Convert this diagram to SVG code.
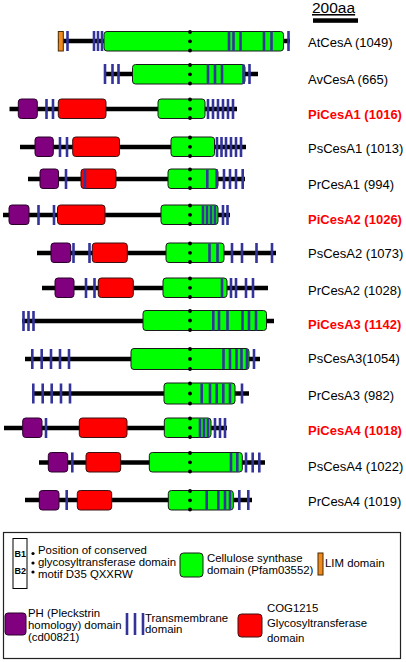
<svg xmlns="http://www.w3.org/2000/svg" width="406" height="662" viewBox="0 0 406 662">
<style>
.ln{stroke:#000;stroke-width:4.5;stroke-linecap:butt}
.tm{stroke:#333399;stroke-width:2.6}
.cs{fill:#00ff00;stroke:#1a1a1a;stroke-width:1}
.gt{fill:#ff0000;stroke:#3a1010;stroke-width:1}
.ph{fill:#800080;stroke:#2a002a;stroke-width:1}
.lim{fill:#f08a1e;stroke:#4a2a00;stroke-width:1}
.dot{fill:#000}
.lb{font-family:"Liberation Sans",Arial,sans-serif;font-size:13px;fill:#000}
.hl{font-weight:bold;fill:#ff0000}
.lg{font-family:"Liberation Sans",Arial,sans-serif;font-size:11.4px;fill:#000}
</style>
<rect width="406" height="662" fill="#fff"/>

<g id="scale">
<text x="312" y="13" font-family="Liberation Sans,Arial,sans-serif" font-size="15.5" text-decoration="underline">200aa</text>
<rect x="313" y="18.3" width="45" height="4.5" fill="#000"/>
</g>

<g id="connectors"></g>

<!-- R1 AtCesA c=41 -->
<g id="AtCesA">
<line class="ln" x1="58" y1="41" x2="290" y2="41"/>
<rect class="lim" x="58.3" y="31.5" width="5" height="19.5"/>
<rect class="cs" x="104" y="31.5" width="179.5" height="19.5" rx="3"/>
<path class="tm" d="M67.5 31v20M94 31v20M98 31v20M102 31v20M229 31.5v19.5M233.5 31.5v19.5M240.5 31.5v19.5M264 31.5v19.5M271.5 31.5v19.5M288.5 31v20"/>
<circle class="dot" cx="190" cy="32" r="1.9"/><circle class="dot" cx="190" cy="41.3" r="1.9"/><circle class="dot" cx="190" cy="50.5" r="1.9"/>
<text class="lb" x="308" y="47">AtCesA (1049)</text>
</g>

<!-- R2 AvCesA c=74 -->
<g id="AvCesA">
<line class="ln" x1="106" y1="74" x2="258" y2="74"/>
<rect class="cs" x="132.5" y="64.5" width="112.5" height="19.5" rx="3"/>
<path class="tm" d="M105 64v20M112.5 64v20M118.5 64v20M208 64.5v19.5M215 64.5v19.5M222 64.5v19.5M243.5 64.5v19.5M249.5 64v20"/>
<circle class="dot" cx="190" cy="65" r="1.9"/><circle class="dot" cx="190" cy="74.3" r="1.9"/><circle class="dot" cx="190" cy="83.5" r="1.9"/>
<text class="lb" x="308" y="84">AvCesA (665)</text>
</g>

<!-- R3 PiCesA1 c=109 -->
<g id="PiCesA1">
<line class="ln" x1="9.5" y1="109" x2="237" y2="109"/>
<rect class="ph" x="18.3" y="99" width="19" height="19.5" rx="3"/>
<rect class="gt" x="58.3" y="99" width="47.7" height="19.5" rx="3"/>
<rect class="cs" x="158" y="99" width="47" height="19.5" rx="3"/>
<path class="tm" d="M46.5 99v20M53 99v20M208 99v20M213 99v20M218 99v20M223 99v20M228 99v20M233 99v20"/>
<circle class="dot" cx="190" cy="99.5" r="1.9"/><circle class="dot" cx="190" cy="108.8" r="1.9"/><circle class="dot" cx="190" cy="118" r="1.9"/>
<text class="lb hl" x="308" y="119">PiCesA1 (1016)</text>
</g>

<!-- R4 PsCesA1 c=147 -->
<g id="PsCesA1">
<line class="ln" x1="20" y1="147" x2="246" y2="147"/>
<rect class="ph" x="35" y="137" width="18.3" height="19.5" rx="3"/>
<rect class="gt" x="72.7" y="137" width="46.8" height="19.5" rx="3"/>
<rect class="cs" x="171" y="137" width="43.5" height="19.5" rx="3"/>
<path class="tm" d="M60 137v20M67 137v20M217 137v20M221.5 137v20M226 137v20M231 137v20M236 137v20M241 137v20"/>
<circle class="dot" cx="190" cy="137.5" r="1.9"/><circle class="dot" cx="190" cy="146.8" r="1.9"/><circle class="dot" cx="190" cy="156" r="1.9"/>
<text class="lb" x="308" y="153">PsCesA1 (1013)</text>
</g>

<!-- R5 PrCesA1 c=179 -->
<g id="PrCesA1">
<line class="ln" x1="28" y1="179" x2="245" y2="179"/>
<rect class="ph" x="40" y="169" width="18.5" height="19.5" rx="3"/>
<rect class="gt" x="81" y="169" width="35" height="19.5" rx="3"/>
<rect class="cs" x="168" y="169" width="50" height="19.5" rx="3"/>
<path class="tm" d="M66 169v20M85 169.5v19M207.3 169.5v19M216.7 169.5v19M224 169v20M230 169v20M236 169v20M242.7 169v20"/>
<circle class="dot" cx="190" cy="169.5" r="1.9"/><circle class="dot" cx="190" cy="178.8" r="1.9"/><circle class="dot" cx="190" cy="188" r="1.9"/>
<text class="lb" x="308" y="189">PrCesA1 (994)</text>
</g>

<!-- R6 PiCesA2 c=215 -->
<g id="PiCesA2">
<line class="ln" x1="3" y1="215" x2="230" y2="215"/>
<rect class="ph" x="9" y="205" width="20" height="19.5" rx="3"/>
<rect class="gt" x="57.5" y="205" width="47.5" height="19.5" rx="3"/>
<rect class="cs" x="161" y="205" width="57" height="19.5" rx="3"/>
<path class="tm" d="M38.5 205v20M54 205v20M203 205.5v19M207 205.5v19M211 205.5v19M215 205.5v19M223 205v20M227.5 205v20"/>
<circle class="dot" cx="190" cy="205.5" r="1.9"/><circle class="dot" cx="190" cy="214.8" r="1.9"/><circle class="dot" cx="190" cy="224" r="1.9"/>
<text class="lb hl" x="308" y="224">PiCesA2 (1026)</text>
</g>

<!-- R7 PsCesA2 c=253 -->
<g id="PsCesA2">
<line class="ln" x1="37" y1="253" x2="276" y2="253"/>
<rect class="ph" x="51" y="243" width="19.7" height="19.5" rx="3"/>
<rect class="gt" x="92.3" y="243" width="35" height="19.5" rx="3"/>
<rect class="cs" x="166" y="243" width="58" height="19.5" rx="3"/>
<path class="tm" d="M73.5 243v20M89.5 243v20M209.5 243.5v19M217.5 243.5v19M232 243v20M242 243v20M256.5 243v20M272 243v20"/>
<circle class="dot" cx="190" cy="243.5" r="1.9"/><circle class="dot" cx="190" cy="252.8" r="1.9"/><circle class="dot" cx="190" cy="262" r="1.9"/>
<text class="lb" x="308" y="258">PsCesA2 (1073)</text>
</g>

<!-- R8 PrCesA2 c=288 -->
<g id="PrCesA2">
<line class="ln" x1="42" y1="288" x2="268" y2="288"/>
<rect class="ph" x="55" y="278" width="19" height="19.5" rx="3"/>
<rect class="gt" x="98.3" y="278" width="35" height="19.5" rx="3"/>
<rect class="cs" x="163" y="278" width="64" height="19.5" rx="3"/>
<path class="tm" d="M86 278v20M94.5 278v20M222 278.5v19M231 278v20M236 278v20M246 278v20M253 278v20"/>
<circle class="dot" cx="190" cy="278.5" r="1.9"/><circle class="dot" cx="190" cy="287.8" r="1.9"/><circle class="dot" cx="190" cy="297" r="1.9"/>
<text class="lb" x="308" y="295">PrCesA2 (1028)</text>
</g>

<!-- R9 PiCesA3 c=321 -->
<g id="PiCesA3">
<line class="ln" x1="22" y1="321" x2="274" y2="321"/>
<rect class="cs" x="143" y="310.5" width="123.5" height="20" rx="3"/>
<path class="tm" d="M23.5 311v20M28.5 311v20M33.5 311v20M213.3 311v19.5M219 311v19.5M227.5 311v19.5M242.5 311v19.5M249 311v19.5M256 311v19.5"/>
<circle class="dot" cx="190" cy="311" r="1.9"/><circle class="dot" cx="190" cy="320.5" r="1.9"/><circle class="dot" cx="190" cy="330" r="1.9"/>
<text class="lb hl" x="308" y="329">PiCesA3 (1142)</text>
</g>

<!-- R10 PsCesA3 c=359 -->
<g id="PsCesA3">
<line class="ln" x1="25" y1="359" x2="260" y2="359"/>
<rect class="cs" x="131" y="348.5" width="118" height="21" rx="3"/>
<path class="tm" d="M32.3 349v20M41.7 349v20M51 349v20M60 349v20M69 349v20M223.5 349v20M230 349v20M236.5 349v20M241.5 349v20M247 349v20M254 349v20"/>
<circle class="dot" cx="190" cy="349" r="1.9"/><circle class="dot" cx="190" cy="359" r="1.9"/><circle class="dot" cx="190" cy="369" r="1.9"/>
<text class="lb" x="308" y="363">PsCesA3(1054)</text>
</g>

<!-- R11 PrCesA3 c=393.5 -->
<g id="PrCesA3">
<line class="ln" x1="32" y1="393.5" x2="249" y2="393.5"/>
<rect class="cs" x="164" y="383" width="71" height="21" rx="3"/>
<path class="tm" d="M33.3 383.5v20M42.7 383.5v20M51.7 383.5v20M61 383.5v20M70 383.5v20M201.7 383.5v20M210 383.5v20M216.7 383.5v20M223.3 383.5v20M230 383.5v20M242 383.5v20"/>
<circle class="dot" cx="190" cy="383.5" r="1.9"/><circle class="dot" cx="190" cy="393.5" r="1.9"/><circle class="dot" cx="190" cy="403.5" r="1.9"/>
<text class="lb" x="308" y="400">PrCesA3 (982)</text>
</g>

<!-- R12 PiCesA4 c=428 -->
<g id="PiCesA4">
<line class="ln" x1="4" y1="428" x2="227" y2="428"/>
<rect class="ph" x="22.7" y="418" width="19.3" height="19.5" rx="3"/>
<rect class="gt" x="79.3" y="418" width="47.7" height="19.5" rx="3"/>
<rect class="cs" x="164.3" y="418" width="46.7" height="19.5" rx="3"/>
<path class="tm" d="M46 418v20M200 418.5v19M204 418.5v19M208 418.5v19M215 418v20M220 418v20M225 418v20"/>
<circle class="dot" cx="190" cy="418.5" r="1.9"/><circle class="dot" cx="190" cy="427.8" r="1.9"/><circle class="dot" cx="190" cy="437" r="1.9"/>
<text class="lb hl" x="308" y="435">PiCesA4 (1018)</text>
</g>

<!-- R13 PsCesA4 c=462.5 -->
<g id="PsCesA4">
<line class="ln" x1="39" y1="462.5" x2="265" y2="462.5"/>
<rect class="ph" x="48.3" y="452.5" width="19.4" height="19.5" rx="3"/>
<rect class="gt" x="86" y="452.5" width="34.7" height="19.5" rx="3"/>
<rect class="cs" x="149.3" y="452.5" width="93" height="19.5" rx="3"/>
<path class="tm" d="M72.3 452.5v20M231 453v19M237.3 453v19M246 452.5v20M252.7 452.5v20M259.3 452.5v20"/>
<circle class="dot" cx="190" cy="453" r="1.9"/><circle class="dot" cx="190" cy="462.3" r="1.9"/><circle class="dot" cx="190" cy="471.5" r="1.9"/>
<text class="lb" x="308" y="471">PsCesA4 (1022)</text>
</g>

<!-- R14 PrCesA4 c=500 -->
<g id="PrCesA4">
<line class="ln" x1="25" y1="500" x2="252" y2="500"/>
<rect class="ph" x="39.3" y="490.5" width="19.7" height="19.5" rx="3"/>
<rect class="gt" x="77.3" y="490.5" width="34.4" height="19.5" rx="3"/>
<rect class="cs" x="168.3" y="490.5" width="65" height="19.5" rx="3"/>
<path class="tm" d="M66.7 490v20M206.7 491v19M218.3 491v19M225 491v19M230 491v19M239.3 490v20M248.3 490v20"/>
<circle class="dot" cx="190" cy="491" r="1.9"/><circle class="dot" cx="190" cy="500.3" r="1.9"/><circle class="dot" cx="190" cy="509.5" r="1.9"/>
<text class="lb" x="308" y="505.5">PrCesA4 (1019)</text>
</g>

<!-- Legend -->
<g id="legend">
<rect x="3.5" y="532.5" width="397" height="126" fill="#fff" stroke="#222" stroke-width="1.2"/>
<rect x="13" y="538.5" width="14" height="50" fill="none" stroke="#000" stroke-width="1"/>
<text x="14.5" y="557" font-family="Liberation Sans,Arial,sans-serif" font-size="9" font-weight="bold">B1</text>
<text x="14.5" y="574" font-family="Liberation Sans,Arial,sans-serif" font-size="9" font-weight="bold">B2</text>
<circle class="dot" cx="33" cy="553.5" r="1.6"/><circle class="dot" cx="33" cy="563" r="1.6"/><circle class="dot" cx="33" cy="572" r="1.6"/>
<text class="lg" x="38" y="554">Position of conserved</text>
<text class="lg" x="38" y="566">glycosyltransferase domain</text>
<text class="lg" x="38" y="578">motif D35 QXXRW</text>
<rect class="cs" x="180" y="553" width="23" height="24" rx="3.5"/>
<text class="lg" x="207" y="562">Cellulose synthase</text>
<text class="lg" x="207" y="574">domain (Pfam03552)</text>
<rect class="lim" x="318" y="553" width="5" height="22"/>
<text class="lg" x="325" y="567">LIM domain</text>
<rect class="ph" x="5" y="613" width="21" height="22" rx="3"/>
<text class="lg" x="28" y="617">PH (Pleckstrin</text>
<text class="lg" x="28" y="629">homology) domain</text>
<text class="lg" x="28" y="641">(cd00821)</text>
<path class="tm" stroke-width="3" d="M127 613v22M135 613v22M143 613v22"/>
<text class="lg" x="145" y="622">Transmembrane</text>
<text class="lg" x="145" y="633">domain</text>
<rect class="gt" x="238" y="614" width="24" height="23" rx="3.5"/>
<text class="lg" x="267" y="612" font-size="13">COG1215</text>
<text class="lg" x="267" y="627" font-size="13">Glycosyltransferase</text>
<text class="lg" x="267" y="642" font-size="13">domain</text>
</g>
</svg>
